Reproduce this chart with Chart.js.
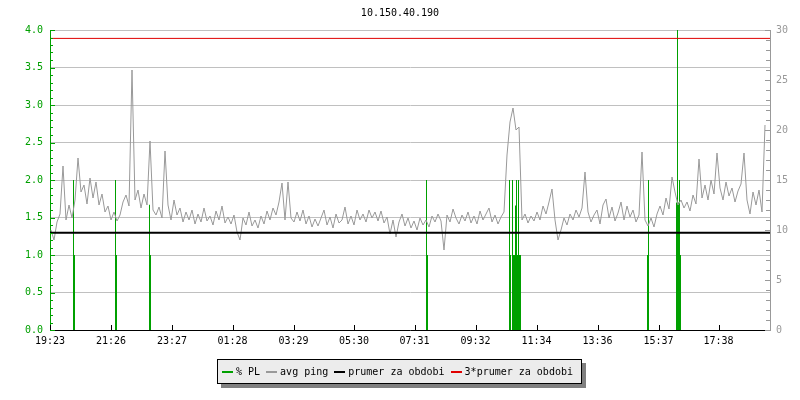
<!DOCTYPE html>
<html>
<head>
<meta charset="utf-8">
<script src="https://cdn.jsdelivr.net/npm/chart.js@4.4.1/dist/chart.umd.min.js"></script>
<style>
  body { margin: 0; background: #fff; }
  #wrap { position: relative; width: 800px; height: 400px; }
  #legend {
    position: absolute; left: 217px; top: 359px; width: 365px; height: 25px;
    box-sizing: border-box; border: 1px solid #000; background: #ececec;
    box-shadow: 4px 4px 0 #808080; padding-left: 4px;
    display: flex; align-items: center;
    font: 10px 'DejaVu Sans Mono', monospace; color: #000; white-space: pre;
  }
  #legend i { display: inline-block; width: 11px; height: 2px; margin-right: 3px; }
  #legend span { margin-right: 6px; }
</style>
</head>
<body>
<div id="wrap">
  <canvas id="chart" width="800" height="400"></canvas>
  <div id="legend">
    <i style="background:#00a000"></i><span>% PL</span>
    <i style="background:#999999"></i><span>avg ping</span>
    <i style="background:#000000"></i><span>prumer za obdobi</span>
    <i style="background:#e00000"></i><span>3*prumer za obdobi</span>
  </div>
</div>
<script>
// time axis in minutes from the left edge (24 h window)
const tickMinutes = [0, 122, 244, 365, 487, 608, 729, 851, 973, 1095, 1217, 1337];
const tickLabels = ['19:23', '21:26', '23:27', '01:28', '03:29', '05:30', '07:31', '09:32', '11:34', '13:36', '15:37', '17:38'];

// avg ping [ms], one sample every 6 minutes starting at minute 2
const pingStart = 2, pingStep = 6;
const pingValues = [
  10.0, 9.0, 10.8, 11.6, 16.4, 11.0, 12.5, 11.2, 13.0, 17.2,
  13.8, 14.5, 12.6, 15.2, 13.2, 14.8, 12.5, 13.6, 11.8, 12.4,
  11.0, 11.8, 10.9, 11.5, 12.8, 13.5, 12.4, 26.0, 13.0, 14.0,
  12.2, 13.6, 12.5, 18.9, 12.0, 11.5, 12.3, 11.2, 17.9, 12.5,
  11.0, 13.0, 11.5, 12.2, 10.8, 11.8, 11.0, 12.0, 10.6, 11.6,
  10.8, 12.2, 10.9, 11.4, 10.5, 11.9, 11.0, 12.4, 10.7, 11.3,
  10.6, 11.5, 9.8, 9.0, 11.2, 10.5, 11.8, 10.4, 11.0, 10.2,
  11.4, 10.6, 11.9, 11.0, 12.2, 11.5, 12.8, 14.7, 11.0, 14.8,
  11.2, 10.8, 11.8, 10.9, 12.0, 10.6, 11.4, 10.3, 11.1, 10.4,
  11.2, 12.0, 10.5, 11.3, 10.2, 11.6, 10.7, 11.0, 12.3, 10.6,
  11.4, 10.5, 12.0, 11.0, 11.6, 10.8, 12.0, 11.2, 11.8, 10.9,
  11.9, 10.7, 11.3, 9.6, 11.0, 9.3, 10.8, 11.6, 10.4, 11.2,
  10.2, 10.9, 10.0, 11.2, 10.5, 11.0, 10.3, 11.4, 10.8, 11.6,
  10.9, 8.0, 11.5, 10.8, 12.1, 11.2, 10.6, 11.5, 10.9, 11.8,
  10.7, 11.4, 10.6, 11.9, 11.0, 11.6, 12.2, 10.8, 11.5, 10.6,
  11.3, 11.8, 17.5, 20.8, 22.2, 20.0, 20.3, 11.0, 11.6, 10.7,
  11.4, 10.9, 11.8, 11.0, 12.4, 11.6, 12.8, 14.1, 11.0, 9.0,
  10.0, 11.2, 10.5, 11.6, 11.0, 12.0, 11.3, 12.2, 15.8, 11.8,
  10.8, 11.5, 12.0, 10.6, 12.5, 13.1, 11.2, 12.3, 10.9, 11.7,
  12.8, 11.0, 12.4, 11.3, 12.0, 10.8, 11.5, 17.8, 11.0, 10.4,
  11.2, 10.3, 11.6, 12.4, 11.5, 13.2, 12.1, 15.3, 13.8, 12.5,
  13.0, 12.2, 12.8, 11.9, 13.5, 12.6, 17.1, 13.2, 14.5, 13.0,
  15.0, 13.6, 17.7, 14.2, 13.0, 14.8, 13.4, 14.2, 12.8, 13.9,
  14.6, 17.7, 13.0, 11.6, 13.8, 12.5, 14.0, 11.8, 20.5
];

// packet loss [%] samples (2 min each), zero elsewhere
const plTimes = [46, 48, 130, 132, 198, 200, 752, 754,
  918, 920, 924, 926, 928, 930, 932, 934, 936, 938, 940,
  1194, 1196, 1252, 1254, 1256, 1258, 1260];
const plValues = [2, 1, 2, 1, 1.67, 1, 2, 1,
  2, 1, 2, 1, 1, 1.66, 2, 1, 2, 1, 1,
  1, 2, 1.7, 4.2, 1.7, 2, 1];

const avgPing = 9.72;
const endMinute = 1440;

const pingData = pingValues.map((v, i) => ({ x: pingStart + i * pingStep, y: v }));

const plData = [{ x: 0, y: 0 }];
plTimes.forEach((t, i) => {
  const last = plData[plData.length - 1];
  if (last.x < t && last.y !== 0) plData.push({ x: last.x + 2, y: 0 });
  plData.push({ x: t, y: plValues[i] });
  if (plTimes[i + 1] !== t + 2) plData.push({ x: t + 2, y: 0 });
});
plData.push({ x: endMinute, y: 0 });

const GREEN = '#00a000', GRAY = '#999999';

// RRD style inward tick marks
const innerTicks = {
  id: 'innerTicks',
  afterDraw(chart) {
    const { ctx, chartArea: a, scales } = chart;
    ctx.save();
    ctx.lineWidth = 1;
    ctx.strokeStyle = GREEN;
    for (let k = 0; k <= 40; k++) {
      const y = Math.round(scales.y.getPixelForValue(k / 10)) + 0.5;
      ctx.beginPath();
      ctx.moveTo(a.left, y);
      ctx.lineTo(a.left + (k % 5 === 0 ? 5 : 3), y);
      ctx.stroke();
    }
    ctx.strokeStyle = GRAY;
    for (let k = 0; k <= 30; k++) {
      const y = Math.round(scales.y1.getPixelForValue(k)) + 0.5;
      ctx.beginPath();
      ctx.moveTo(a.right, y);
      ctx.lineTo(a.right - (k % 5 === 0 ? 5 : 4), y);
      ctx.stroke();
    }
    ctx.strokeStyle = '#000';
    tickMinutes.forEach(t => {
      const x = Math.round(scales.x.getPixelForValue(t)) + 0.5;
      ctx.beginPath();
      ctx.moveTo(x, a.bottom);
      ctx.lineTo(x, a.bottom - 5);
      ctx.stroke();
    });
    ctx.restore();
  }
};

Chart.defaults.font.family = "'DejaVu Sans Mono', monospace";
Chart.defaults.font.size = 10;

new Chart(document.getElementById('chart'), {
  type: 'line',
  data: {
    datasets: [
      {
        label: '% PL', data: plData, yAxisID: 'y', stepped: true,
        fill: 'origin', backgroundColor: GREEN, borderWidth: 0, pointRadius: 0, order: 4
      },
      {
        label: 'avg ping', data: pingData, yAxisID: 'y1',
        borderColor: GRAY, borderWidth: 1, pointRadius: 0, order: 3
      },
      {
        label: 'prumer za obdobi', data: [{ x: 0, y: avgPing }, { x: endMinute, y: avgPing }], yAxisID: 'y1',
        borderColor: '#000', borderWidth: 2, pointRadius: 0, order: 2
      },
      {
        label: '3*prumer za obdobi', data: [{ x: 0, y: avgPing * 3 }, { x: endMinute, y: avgPing * 3 }], yAxisID: 'y1',
        borderColor: '#e00000', borderWidth: 1, pointRadius: 0, order: 1
      }
    ]
  },
  options: {
    animation: false,
    responsive: false,
    layout: { padding: 0 },
    plugins: {
      legend: { display: false },
      tooltip: { enabled: false },
      title: {
        display: true, text: '10.150.40.190', color: '#000',
        font: { size: 10, weight: 'normal' }, padding: { top: 7, bottom: 11 }
      }
    },
    scales: {
      x: {
        type: 'linear', min: 0, max: endMinute,
        afterBuildTicks: s => { s.ticks = tickMinutes.map(v => ({ value: v })); },
        afterFit: s => { s.height = 70; },
        grid: { display: false, drawTicks: false },
        border: { color: '#000', width: 1 },
        ticks: {
          color: '#000', padding: 5, maxRotation: 0, autoSkip: false,
          callback: (v, i) => tickLabels[i]
        }
      },
      y: {
        position: 'left', min: 0, max: 4,
        afterFit: s => { s.width = 50; },
        grid: { color: '#c0c0c0', drawTicks: false },
        border: { color: GREEN, width: 1 },
        ticks: { stepSize: 0.5, color: GREEN, padding: 7, callback: v => v.toFixed(1) }
      },
      y1: {
        position: 'right', min: 0, max: 30,
        afterFit: s => { s.width = 30; },
        grid: { display: false, drawTicks: false },
        border: { color: GRAY, width: 1 },
        ticks: { stepSize: 5, color: GRAY, padding: 6 }
      }
    }
  },
  plugins: [innerTicks]
});
</script>
</body>
</html>
